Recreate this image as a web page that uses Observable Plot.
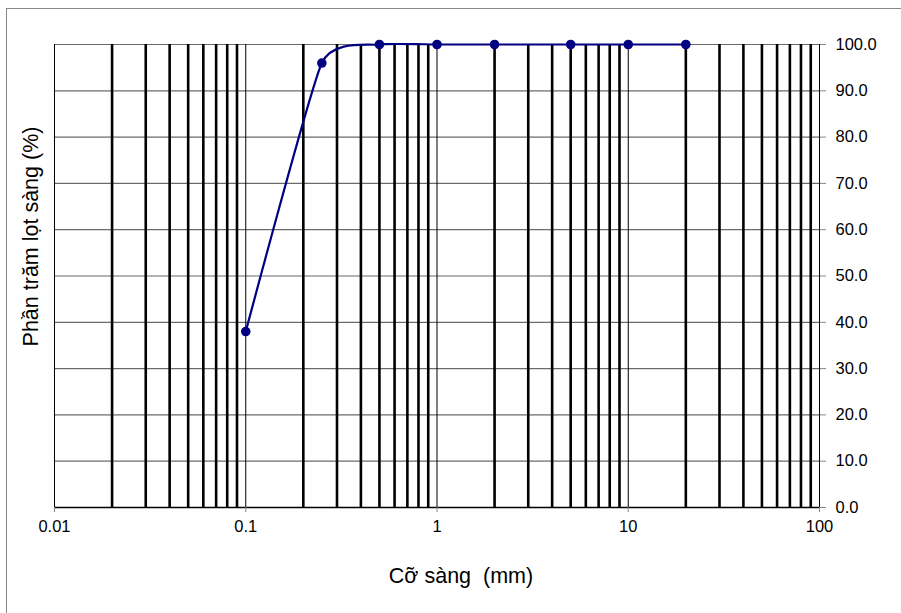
<!DOCTYPE html>
<html>
<head>
<meta charset="utf-8">
<script src="https://cdn.jsdelivr.net/npm/d3@7"></script>
<script src="https://cdn.jsdelivr.net/npm/@observablehq/plot@0.6"></script>
<style>
  html, body { margin: 0; padding: 0; background: #fff; }
  #chart { position: relative; width: 901px; height: 613px; }
  #frame { position: absolute; left: 6px; top: 8px; width: 910px; height: 620px; border-left: 1.5px solid #888; border-top: 1.5px solid #888; box-sizing: border-box; pointer-events: none; }
  svg { font-family: "Liberation Sans", Arial, sans-serif; }
</style>
</head>
<body>
<div id="chart"><div id="frame"></div></div>
<script>
// Data
const sieveSize = [0.1, 0.25, 0.5, 1, 2, 5, 10, 20];        // mm
const percentPassing = [38, 96, 100, 100, 100, 100, 100, 100]; // %
const xTicks = [0.01, 0.1, 1, 10, 100];
const xTickLabels = ["0.01", "0.1", "1", "10", "100"];
const yTicks = [0, 10, 20, 30, 40, 50, 60, 70, 80, 90, 100];
const minorGrid = [2,3,4,5,6,7,8,9].flatMap(m => [0.01, 0.1, 1, 10].map(d => +(m * d).toPrecision(3)));
const decadeGrid = [0.01, 0.1, 1, 10, 100];
const xLabel = "Cỡ sàng  (mm)";
const yLabel = "Phần trăm lọt sàng (%)";

const data = sieveSize.map((s, i) => ({size: s, pct: percentPassing[i]}));

// The frame extends 1px above the 100% line so the (clipped) smoothed line keeps its full stroke at 100%.
const plotTop = 43, plotBottom = 507;
const yMax = 100 * (plotBottom - plotTop) / (plotBottom - 44);

const chart = Plot.plot({
  width: 901,
  height: 613,
  marginLeft: 54,
  marginRight: 82,
  marginTop: plotTop,
  marginBottom: 613 - plotBottom,
  style: {fontFamily: "'Liberation Sans', Arial, sans-serif", fontSize: "16.5px", background: "transparent", overflow: "visible"},
  x: {type: "log", domain: [0.01, 100], label: null},
  y: {domain: [0, yMax], label: null},
  marks: [
    Plot.ruleY(yTicks.filter(d => d > 0), {stroke: "#6b6b6b", strokeWidth: 1.2}),
    Plot.ruleX(minorGrid, {y1: 0, y2: 100, stroke: "#000", strokeWidth: 2.6}),
    Plot.ruleX(decadeGrid, {y1: 0, y2: 100, stroke: "#000", strokeWidth: 1}),
    Plot.ruleY([0], {stroke: "#000", strokeWidth: 1.5}),
    Plot.axisX({ticks: xTicks, tickFormat: (d) => xTickLabels[xTicks.indexOf(d)], tickSize: 5, tickPadding: 8, stroke: "#888", fill: "#000", fontSize: 16.5, label: null}),
    Plot.axisY({anchor: "right", ticks: yTicks, tickFormat: (d) => d.toFixed(1), tickSize: 6, tickPadding: 10, stroke: "#888", fill: "#000", fontSize: 16.5, label: null}),
    Plot.line(data, {x: "size", y: "pct", curve: "cardinal", tension: 0.5, stroke: "#000080", strokeWidth: 2.2, clip: true}),
    Plot.dot(data, {x: "size", y: "pct", r: 4.8, fill: "#000080", stroke: "none"})
  ]
});

const svg = d3.select(chart);
svg.append("text")
  .attr("x", 461).attr("y", 583)
  .attr("text-anchor", "middle")
  .attr("font-size", 21.5)
  .attr("fill", "#000")
  .style("white-space", "pre")
  .text(xLabel);
svg.append("text")
  .attr("transform", "translate(38,236.5) rotate(-90)")
  .attr("text-anchor", "middle")
  .attr("font-size", 21.5)
  .attr("fill", "#000")
  .text(yLabel);

document.getElementById("chart").prepend(chart);
chart.style.position = "absolute";
chart.style.left = "0";
chart.style.top = "0";
</script>
</body>
</html>
